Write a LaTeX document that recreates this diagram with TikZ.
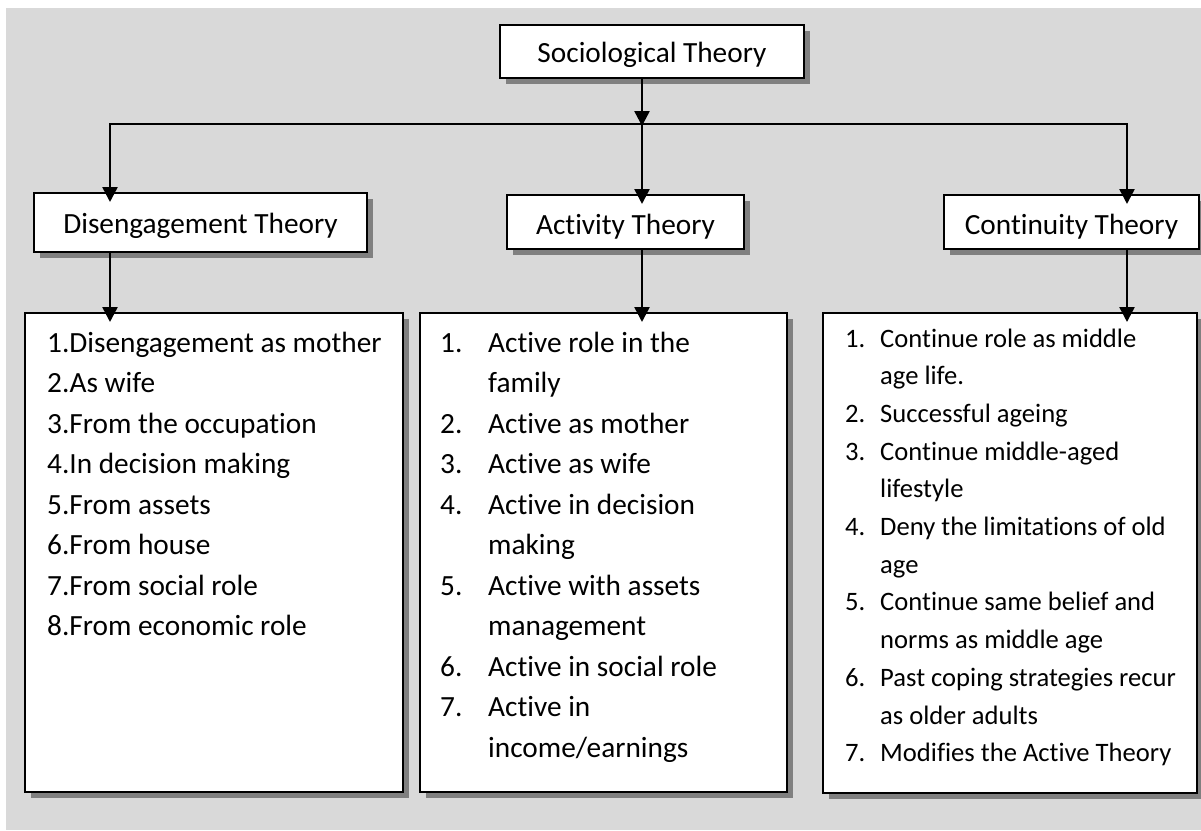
\documentclass[tikz,border=0pt]{standalone}
\usepackage{fontspec}
\setmainfont{Carlito}[Ligatures={NoCommon}]
\usetikzlibrary{arrows.meta,shadows}
\definecolor{panelgray}{HTML}{D9D9D9}
\definecolor{shadowgray}{HTML}{808080}
\begin{document}
\begin{tikzpicture}[x=1pt,y=-1pt,
  box/.style={draw=black, line width=2pt, fill=white, inner sep=0pt,
    drop shadow={shadow xshift=6pt, shadow yshift=-6pt, fill=shadowgray, opacity=1}},
  conn/.style={line width=2.5pt, -{Triangle[width=15pt,length=15pt]}},
  head/.style={font=\fontsize{29.3}{35}\selectfont, text height=22pt, text depth=0pt},
  item/.style={anchor=base west, inner sep=0pt, font=\fontsize{29.3}{35}\selectfont},
  citem/.style={anchor=base west, inner sep=0pt, font=\fontsize{26.6}{32}\selectfont}]

% panel
\useasboundingbox (0,0) rectangle (1201,830);
\fill[panelgray] (6,8) rectangle (1201,830);

% boxes
\node[box, head, minimum width=304pt, minimum height=53pt] (soc) at (652,51.5) {Sociological Theory};
\node[box, head, minimum width=333pt, minimum height=59pt] (dis) at (200.5,222.5) {Disengagement Theory};
\node[box, head, text height=25pt, minimum width=237pt, minimum height=54pt] (act) at (625.5,222) {Activity Theory};
\node[box, head, text height=25pt, minimum width=255pt, minimum height=54pt] (con) at (1071.5,222) {Continuity Theory};

\node[box, minimum width=378pt, minimum height=479pt] (dl) at (214,552.5) {};
\node[box, minimum width=367pt, minimum height=479pt] (al) at (603.5,552.5) {};
\node[box, minimum width=374pt, minimum height=480pt] (cl) at (1010,553) {};

% connectors
\coordinate (hub) at (642,124);
\coordinate (hl) at (110,124);
\coordinate (hr) at (1127,124);
\draw[conn] (soc.south -| hub) -- ([yshift=-2pt]hub);
\draw[conn] (hub) -- ([yshift=-10pt]hub |- act.north);
\draw[conn] (hub) -| ([yshift=-10pt]hl |- dis.north);
\draw[conn] (hub) -| ([yshift=-10pt]hr |- con.north);
\draw[conn] (hl |- dis.south) -- ([yshift=-10pt]hl |- dl.north);
\draw[conn] (hub |- act.south) -- ([yshift=-10pt]hub |- al.north);
\draw[conn] (hr |- con.south) -- ([yshift=-10pt]hr |- cl.north);

% disengagement items
\node[item] (d1) at (47,352) {1.Disengagement as mother};
\node[item] (d2) at (47,392.5) {2.As wife};
\node[item] (d3) at (47,433) {3.From the occupation};
\node[item] (d4) at (47,473.5) {4.In decision making};
\node[item] (d5) at (47,514) {5.From assets};
\node[item] (d6) at (47,554.5) {6.From house};
\node[item] (d7) at (47,595) {7.From social role};
\node[item] (d8) at (47,635.5) {8.From economic role};

% activity items
\node[item] (an1) at (440,352) {1.};
\node[item] (a1) at (488,352) {Active role in the};
\node[item] (a1b) at (488,392.5) {family};
\node[item] (an2) at (440,433) {2.};
\node[item] (a2) at (488,433) {Active as mother};
\node[item] (an3) at (440,473.5) {3.};
\node[item] (a3) at (488,473.5) {Active as wife};
\node[item] (an4) at (440,514) {4.};
\node[item] (a4) at (488,514) {Active in decision};
\node[item] (a4b) at (488,554.5) {making};
\node[item] (an5) at (440,595) {5.};
\node[item] (a5) at (488,595) {Active with assets};
\node[item] (a5b) at (488,635.5) {management};
\node[item] (an6) at (440,676) {6.};
\node[item] (a6) at (488,676) {Active in social role};
\node[item] (an7) at (440,716.5) {7.};
\node[item] (a7) at (488,716.5) {Active in};
\node[item] (a7b) at (488,757) {income/earnings};

% continuity items
\node[citem] (cn1) at (845,347) {1.};
\node[citem] (c1) at (880,347) {Continue role as middle};
\node[citem] (c1b) at (880,384.7) {age life.};
\node[citem] (cn2) at (845,422.4) {2.};
\node[citem] (c2) at (880,422.4) {Successful ageing};
\node[citem] (cn3) at (845,460.1) {3.};
\node[citem] (c3) at (880,460.1) {Continue middle-aged};
\node[citem] (c3b) at (880,497.8) {lifestyle};
\node[citem] (cn4) at (845,535.5) {4.};
\node[citem] (c4) at (880,535.5) {Deny the limitations of old};
\node[citem] (c4b) at (880,573.2) {age};
\node[citem] (cn5) at (845,610.9) {5.};
\node[citem] (c5) at (880,610.9) {Continue same belief and};
\node[citem] (c5b) at (880,648.6) {norms as middle age};
\node[citem] (cn6) at (845,686.3) {6.};
\node[citem] (c6) at (880,686.3) {Past coping strategies recur};
\node[citem] (c6b) at (880,724) {as older adults};
\node[citem] (cn7) at (845,761.7) {7.};
\node[citem] (c7) at (880,761.7) {Modifies the Active Theory};
\end{tikzpicture}
\end{document}
